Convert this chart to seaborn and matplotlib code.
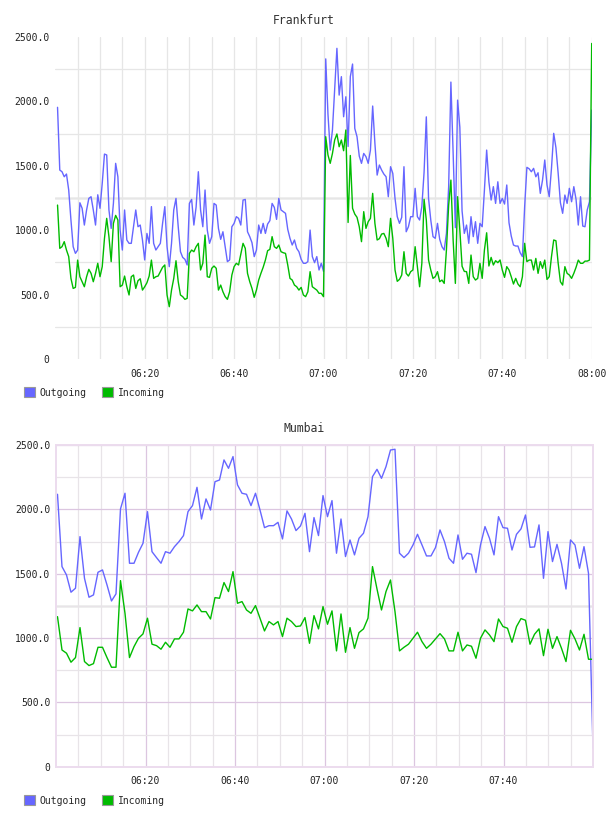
import pandas as pd
import matplotlib
matplotlib.use('Agg')
import matplotlib.pyplot as plt
import matplotlib.dates as mdates
from matplotlib.patches import Patch
from matplotlib.ticker import FixedLocator
import seaborn as sns

# Frankfurt, one sample every 30 s from 06:00:30 to 08:00:00
fra_outgoing = [
    1954, 1467, 1454, 1415, 1436, 1312, 1079, 872, 820, 846,
    1213, 1170, 1040, 1157, 1247, 1260, 1157, 1040, 1275, 1170,
    1364, 1591, 1584, 1157, 1014, 1208, 1519, 1415, 1001, 846,
    1157, 924, 898, 898, 1027, 1157, 1027, 1040, 924, 769,
    975, 898, 1183, 898, 846, 872, 898, 1053, 1183, 872,
    717, 898, 1157, 1247, 1027, 833, 789, 774, 730, 1208,
    1239, 1040,
    1180, 1454, 1157, 1027, 1312, 1001, 898, 950, 1208, 1195,
    1014, 929, 988, 872, 756, 769, 1027, 1053, 1105, 1092,
    1040, 1234, 1239, 988, 950, 903, 795, 846, 1040, 975,
    1053, 975, 1048, 1074, 1208, 1177, 1084, 1247, 1157, 1144,
    1131, 1007, 937, 885, 924, 859, 833, 774, 743, 743,
    756, 1001, 795, 748, 795, 691, 743, 680,
    2330, 1900, 1622, 1778, 2088, 2412, 2049, 2192, 1881, 2036,
    1650, 2192, 2290, 1790, 1726, 1576, 1519, 1596, 1571, 1519,
    1622, 1964, 1674, 1428, 1506, 1467, 1436, 1415, 1260, 1493,
    1441, 1247, 1105, 1053, 1100, 1493, 988, 1027, 1105, 1105,
    1325, 1105, 1079, 1183, 1450, 1880, 1247, 1079, 950, 937,
    1053, 929, 872, 846, 975, 1338, 2150, 1600, 1020, 2010,
    1800, 1150, 975,
    1040, 898, 1105, 950, 1066, 898, 1053, 1027, 1312, 1622,
    1376, 1234, 1338, 1208, 1376, 1208, 1247, 1203, 1351, 1058,
    955, 885, 877, 877, 825, 795, 1183, 1488, 1477, 1454,
    1480, 1415, 1446, 1286, 1389, 1545, 1351, 1260, 1480, 1752,
    1640, 1441, 1213, 1131, 1273, 1208, 1325, 1221, 1338, 1239,
    1040, 1260, 1032, 1027, 1157, 1221, 1933,
]
fra_incoming = [
    1195, 859, 872, 911, 846, 795, 626, 548, 556, 768,
    639, 600, 561, 639, 696, 665, 600, 665, 743, 639,
    717, 937, 1092, 950, 756, 1053, 1115, 1079, 561, 574,
    644, 561, 497, 639, 652, 548, 608, 623, 535, 561,
    592, 644, 768, 626, 639, 644, 678, 712, 730, 497,
    406, 535, 626, 763, 600, 497, 484, 463, 471, 820,
    846, 833,
    872, 898, 691, 743, 962, 639, 634, 704, 722, 704,
    535, 574, 522, 484, 463, 522, 652, 717, 743, 730,
    815, 898, 859, 665, 600, 548, 479, 535, 613, 665,
    712, 768, 841, 851, 950, 872, 859, 885, 833, 825,
    820, 730, 626, 613, 574, 561, 535, 556, 497, 484,
    522, 678, 561, 548, 535, 510, 510, 484,
    1726, 1584, 1519, 1596, 1700, 1747, 1648, 1700, 1617, 1778,
    1060, 1580, 1170, 1125, 1100, 1027, 911, 1144, 1014, 1066,
    1092, 1286, 1053, 924, 934, 970, 975, 937, 872, 1092,
    937, 691, 603, 618, 652, 833, 665, 644, 678, 691,
    872, 717, 561, 743, 1240, 1079, 769, 691, 626, 639,
    678, 600, 613, 587, 846, 1195, 1389, 924, 587, 1260,
    1001, 720, 680,
    678, 587, 807, 639, 613, 626, 743, 626, 846, 980,
    722, 789, 730, 763, 748, 769, 691, 634, 717, 691,
    639, 582, 626, 582, 561, 639, 898, 756, 768, 768,
    691, 781, 665, 756, 704, 768, 618, 639, 794, 924,
    918, 743, 600, 574, 717, 665, 652, 626, 665, 712,
    768, 743, 743, 760, 760, 768, 2450,
]

# Mumbai, one sample per minute
mum_outgoing = [
    2117, 1555, 1490, 1356, 1387, 1788, 1464, 1317, 1335, 1511,
    1529, 1413, 1288, 1343, 2003, 2125, 1581, 1581, 1666, 1736,
    1982, 1671, 1625, 1581, 1671, 1659, 1710, 1749, 1796, 1982,
    2029, 2171, 1925, 2081, 1995, 2215, 2228, 2384, 2319, 2410,
    2190, 2125, 2117, 2029, 2125, 1995, 1858, 1873, 1873, 1899,
    1770, 1988, 1925, 1835, 1871, 1969, 1671, 1936, 1796, 2107,
    1943, 2068, 1659, 1925, 1633, 1762, 1646, 1775, 1814, 1943,
    2254, 2311, 2241, 2332, 2461, 2467, 1659, 1625, 1659, 1723,
    1806, 1723, 1638, 1638, 1703, 1840, 1749, 1620, 1581, 1801,
    1612, 1659, 1651, 1508, 1723, 1866, 1775, 1646, 1943, 1858,
    1853, 1684, 1806, 1848, 1956, 1705, 1708, 1879, 1464, 1827,
    1594, 1728, 1581, 1381, 1762, 1723, 1542, 1710, 1503, 143,
]
mum_incoming = [
    1166, 907, 882, 812, 848, 1081, 817, 786, 801, 928,
    928, 848, 773, 773, 1446, 1192, 848, 933, 998, 1032,
    1154, 952, 941, 913, 967, 928, 993, 993, 1045, 1226,
    1211, 1257, 1205, 1205, 1148, 1314, 1309, 1431, 1361, 1516,
    1270, 1283, 1218, 1192, 1252, 1154, 1055, 1128, 1102, 1128,
    1011, 1154, 1128, 1089, 1094, 1159, 959, 1174, 1071, 1244,
    1107, 1211, 900, 1187, 889, 1081, 920, 1042, 1071, 1154,
    1555, 1381, 1218, 1361, 1451, 1205, 900, 928, 952, 998,
    1045, 972, 920, 952, 993, 1034, 993, 900, 900, 1045,
    900, 946, 936, 843, 998, 1063, 1024, 972, 1148, 1089,
    1076, 967, 1089, 1151, 1138, 952, 1029, 1071, 863, 1068,
    920, 1011, 920, 817, 1060, 993, 907, 1029, 835, 835,
]

assert len(fra_outgoing) == len(fra_incoming) == 240, (len(fra_outgoing), len(fra_incoming))
assert len(mum_outgoing) == len(mum_incoming) == 120, (len(mum_outgoing), len(mum_incoming))

day = '2024-01-01 '
fra_times = pd.date_range(day + '06:00:30', periods=len(fra_outgoing), freq='30s')
mum_times = pd.date_range(day + '06:00:20', day + '08:00:00', periods=len(mum_outgoing))

y_ticks = [0, 500, 1000, 1500, 2000, 2500]
y_labels = ['0', '500.0', '1000.0', '1500.0', '2000.0', '2500.0']
y_minor = [250, 750, 1250, 1750, 2250]
fra_x_labels = ['06:20', '06:40', '07:00', '07:20', '07:40', '08:00']
mum_x_labels = ['06:20', '06:40', '07:00', '07:20', '07:40']
series_names = ['Outgoing', 'Incoming']
colors = ['#6666ff', '#00bb00']

sns.set_style('white')
plt.rcParams['font.family'] = ['DejaVu Sans Mono', 'DejaVu Sans']

W, H = 608, 816
fig = plt.figure(figsize=(W / 100, H / 100), dpi=100)

# every 5 minutes from 06:05 to 08:00
five_min = pd.date_range(day + '06:05', day + '08:00', freq='5min')


def setup(ax, times, outgoing, incoming, x_labels, minor_color, major_color):
    sns.lineplot(x=times, y=outgoing, ax=ax, color=colors[0], lw=1.0, estimator=None)
    sns.lineplot(x=times, y=incoming, ax=ax, color=colors[1], lw=1.0, estimator=None)
    ax.set_xlim(pd.Timestamp(day + '06:00'), pd.Timestamp(day + '08:00'))
    ax.set_ylim(0, 2500)
    ax.set_xlabel('')
    ax.set_ylabel('')
    ax.set_axisbelow(True)

    ax.yaxis.set_major_locator(FixedLocator(y_ticks))
    ax.set_yticklabels(y_labels)
    ax.yaxis.set_minor_locator(FixedLocator(y_minor))
    xt = [mdates.date2num(pd.Timestamp(day + s)) for s in x_labels]
    ax.xaxis.set_major_locator(FixedLocator(xt))
    ax.set_xticklabels(x_labels)
    ax.xaxis.set_minor_locator(FixedLocator(mdates.date2num(five_min)))

    ax.tick_params(which='both', length=0, labelsize=7, colors='#222222')
    ax.tick_params(axis='x', pad=7)
    ax.tick_params(axis='y', pad=4)

    ax.grid(which='minor', axis='both', color=minor_color, lw=0.9)
    if major_color:
        ax.grid(which='major', axis='both', color=major_color, lw=0.9)
    else:
        ax.xaxis.grid(True, which='major', color=minor_color, lw=0.9)
        ax.yaxis.grid(False, which='major')
    ax.axhline(1250, color='#ececec', lw=1.8, zorder=0.5)


# Frankfurt
ax1 = fig.add_axes([55.3 / W, 1 - 359 / H, 536.4 / W, 322 / H])
setup(ax1, fra_times, fra_outgoing, fra_incoming, fra_x_labels, '#e6e6e6', None)
for sp in ax1.spines.values():
    sp.set_visible(False)

# Mumbai
ax2 = fig.add_axes([56 / W, 1 - 766.7 / H, 537 / W, 321.7 / H])
setup(ax2, mum_times, mum_outgoing, mum_incoming, mum_x_labels, '#e8e4e8', '#dcc6e0')
for sp in ax2.spines.values():
    sp.set_visible(True)
    sp.set_color('#ecdcee')
    sp.set_linewidth(1.4)

fig.text(0.5, 1 - 20 / H, 'Frankfurt', ha='center', va='center', fontsize=8.3, color='#333333')
fig.text(0.5, 1 - 429 / H, 'Mumbai', ha='center', va='center', fontsize=8.3, color='#333333')

handles = [Patch(facecolor=c, edgecolor='#999999', lw=0.8, label=n) for c, n in zip(colors, series_names)]
for ypix in (392.5, 800.5):
    fig.legend(handles=handles, loc='center left', bbox_to_anchor=(24 / W, 1 - ypix / H),
               ncol=2, frameon=False, fontsize=7, borderpad=0, borderaxespad=0,
               handlelength=1.15, handleheight=1.15, handletextpad=0.45, columnspacing=1.6)

fig.savefig('out.png', dpi=100)
